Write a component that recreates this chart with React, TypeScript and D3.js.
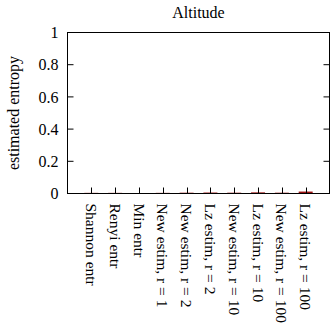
import { useEffect, useRef } from 'react'
import * as d3 from 'd3'

const categories = [
  'Shannon entr',
  'Renyi entr',
  'Min entr',
  'New estim, r = 1',
  'New estim, r = 2',
  'Lz estim, r = 2',
  'New estim, r = 10',
  'Lz estim, r = 10',
  'New estim, r = 100',
  'Lz estim, r = 100',
]
const values = [0.004, 0.004, 0.003, 0.004, 0.005, 0.006, 0.005, 0.007, 0.005, 0.012]
const yTicks = [0, 0.2, 0.4, 0.6, 0.8, 1]
const title = 'Altitude'
const yLabel = 'estimated entropy'

function App() {
  const svgRef = useRef<SVGSVGElement>(null)

  useEffect(() => {
    const width = 330
    const height = 328
    const left = 67.5, right = 329.5, top = 32.5, bottom = 193.5
    const font = '"Liberation Serif", "DejaVu Serif", serif'

    const svg = d3.select(svgRef.current)
    svg.selectAll('*').remove()
    svg.attr('width', width).attr('height', height)

    const x = d3.scaleLinear().domain([-1, categories.length]).range([left, right])
    const y = d3.scaleLinear().domain([0, 1]).range([bottom, top])
    const barW = 14

    // bars
    svg.append('g').selectAll('rect')
      .data(values)
      .join('rect')
      .attr('x', (_, i) => x(i) - barW / 2)
      .attr('y', d => y(d))
      .attr('width', barW)
      .attr('height', d => y(0) - y(d))
      .attr('fill', '#9b1010')

    // y ticks, left and mirrored right
    const g = svg.append('g').attr('stroke', '#000').attr('stroke-width', 1)
    yTicks.forEach(t => {
      g.append('line').attr('x1', left).attr('x2', left + 6).attr('y1', y(t)).attr('y2', y(t))
      g.append('line').attr('x1', right - 6).attr('x2', right).attr('y1', y(t)).attr('y2', y(t))
    })
    categories.forEach((_, i) => {
      const cx = Math.round(x(i)) + 0.5
      g.append('line').attr('x1', cx).attr('x2', cx).attr('y1', bottom).attr('y2', bottom - 6)
    })

    // frame
    svg.append('rect')
      .attr('x', left).attr('y', top)
      .attr('width', right - left).attr('height', bottom - top)
      .attr('fill', 'none').attr('stroke', '#000').attr('stroke-width', 1)

    svg.append('g').selectAll('text')
      .data(yTicks)
      .join('text')
      .attr('x', left - 9)
      .attr('y', d => y(d))
      .attr('dy', '0.35em')
      .attr('text-anchor', 'end')
      .attr('font-family', font)
      .attr('font-size', 16)
      .text(d => d3.format('~g')(d))

    svg.append('g').selectAll('text')
      .data(categories)
      .join('text')
      .attr('transform', (_, i) => `translate(${x(i)},${bottom + 10}) rotate(90)`)
      .attr('dy', '0.35em')
      .attr('font-family', font)
      .attr('font-size', 15.5)
      .text(d => d)

    svg.append('text')
      .attr('x', (left + right) / 2)
      .attr('y', 18)
      .attr('text-anchor', 'middle')
      .attr('font-family', font)
      .attr('font-size', 16)
      .text(title)

    svg.append('text')
      .attr('transform', `translate(13,${(top + bottom) / 2}) rotate(-90)`)
      .attr('text-anchor', 'middle')
      .attr('dy', '0.35em')
      .attr('font-family', font)
      .attr('font-size', 16)
      .text(yLabel)
  }, [])

  return (
    <svg
      ref={svgRef}
      style={{ position: 'absolute', left: 0, top: 0, display: 'block', background: '#fff' }}
    />
  )
}

export default App
